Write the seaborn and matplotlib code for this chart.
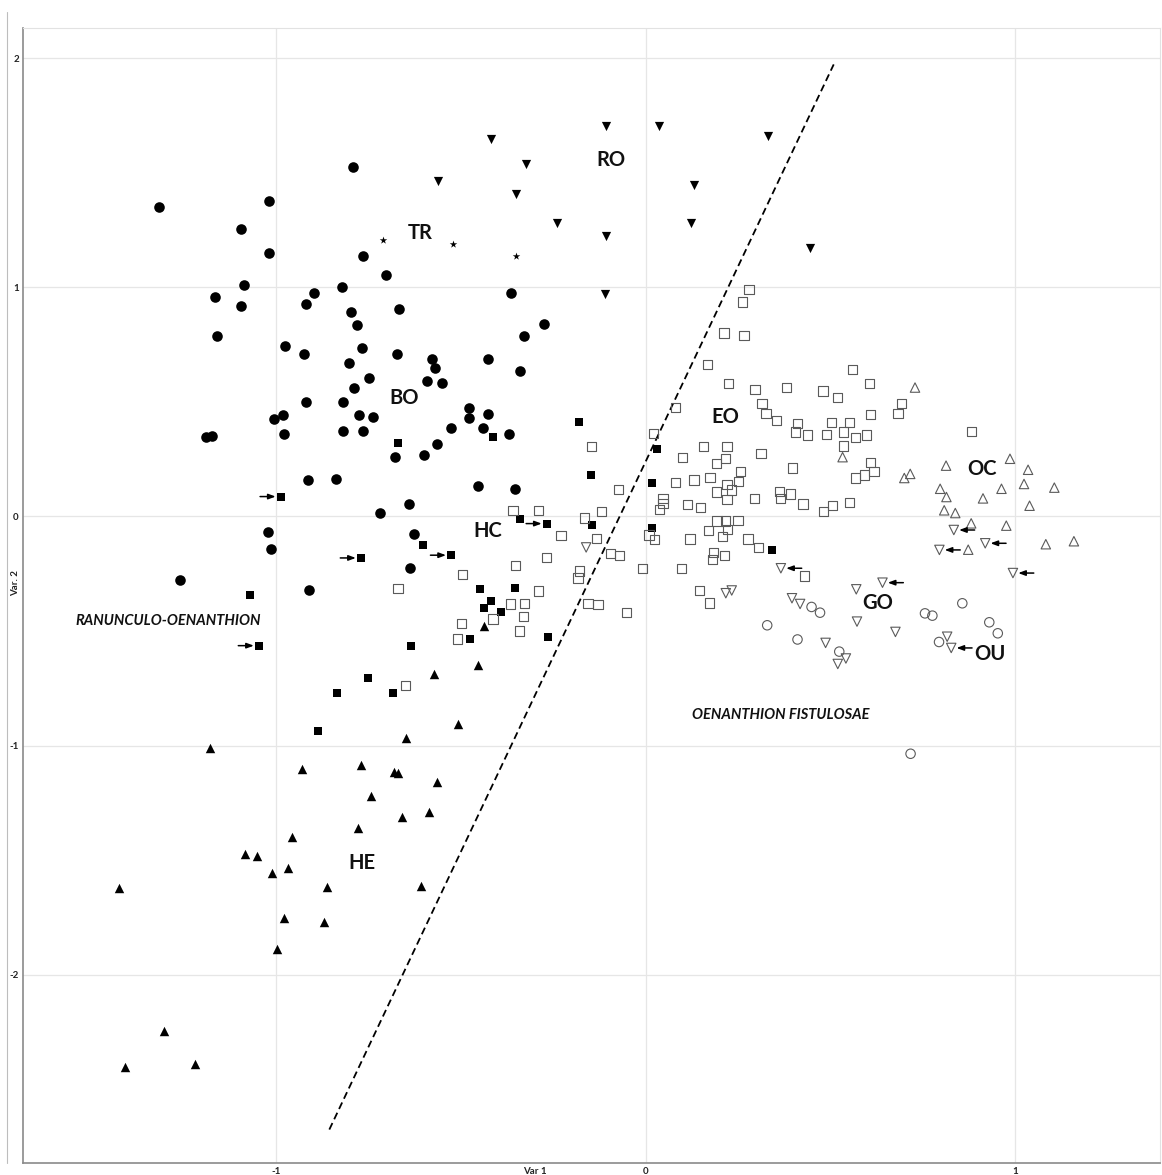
import numpy as np
import pandas as pd
import matplotlib
matplotlib.use("Agg")
import matplotlib.pyplot as plt
from matplotlib.lines import Line2D
import seaborn as sns

# ---- relevé scores on the first two ordination axes, by association ----
# BO (filled circles)
bo_x = [-0.792, -1.317, -1.019, -1.094, -1.019, -0.765, -0.702, -1.087, -1.166, -1.096,
        -0.898, -0.918, -0.821, -0.798, -0.780, -0.668, -1.160, -0.976, -0.924, -0.767,
        -0.672, -0.802, -0.577, -0.570, -0.749, -0.591, -0.551, -0.788, -0.920, -0.819,
        -0.982, -1.005, -0.775, -0.738, -0.980, -0.819, -0.764, -1.189, -1.173, -0.526,
        -0.477, -0.477, -0.426, -0.440, -0.369, -0.365, -0.274, -0.329, -0.426, -0.339,
        -0.913, -0.837, -0.679, -0.601, -0.564, -0.641, -0.718, -1.022, -1.014, -0.628,
        -0.639, -1.260, -0.912, -0.454, -0.353]
bo_y = [1.525, 1.353, 1.378, 1.257, 1.152, 1.139, 1.053, 1.010, 0.960, 0.918,
        0.977, 0.929, 1.002, 0.892, 0.836, 0.906, 0.790, 0.746, 0.711, 0.734,
        0.711, 0.670, 0.686, 0.647, 0.605, 0.592, 0.582, 0.560, 0.499, 0.501,
        0.445, 0.426, 0.443, 0.434, 0.362, 0.372, 0.372, 0.348, 0.353, 0.388,
        0.475, 0.429, 0.449, 0.386, 0.362, 0.975, 0.839, 0.788, 0.686, 0.634,
        0.159, 0.165, 0.261, 0.270, 0.317, 0.053, 0.014, -0.069, -0.143, -0.076,
        -0.224, -0.279, -0.322, 0.133, 0.119]

# TR (stars)
tr_x = [-0.711, -0.520, -0.352]
tr_y = [1.207, 1.190, 1.139]

# RO (filled down-triangles)
ro_x = [-0.563, -0.419, -0.108, 0.035, 0.332, -0.323, -0.352, 0.132, -0.240, -0.108,
        0.122, -0.110, 0.445]
ro_y = [1.465, 1.648, 1.707, 1.707, 1.663, 1.538, 1.410, 1.448, 1.282, 1.224,
        1.283, 0.970, 1.174]

# HC (filled squares)
hc_x = [-0.670, -0.414, -0.181, -0.149, 0.030, 0.016, -0.987, -0.603, -0.770, -0.526,
        -0.340, -0.267, -0.146, 0.018, 0.343, -1.070, -1.046, -0.635, -0.447, -0.353,
        -0.419, -0.437, -0.392, -0.474, -0.265, -0.751, -0.835, -0.683, -0.888]
hc_y = [0.320, 0.348, 0.414, 0.180, 0.295, 0.145, 0.087, -0.123, -0.181, -0.169,
        -0.012, -0.031, -0.038, -0.049, -0.146, -0.343, -0.564, -0.565, -0.318, -0.312,
        -0.369, -0.400, -0.415, -0.535, -0.525, -0.704, -0.772, -0.771, -0.937]
hc_flagged = [6, 8, 9, 11, 16]

# HE (filled up-triangles)
he_x = [-0.574, -0.438, -0.455, -0.509, -0.649, -1.179, -0.930, -0.770, -0.680, -0.670,
        -0.565, -0.744, -0.659, -0.585, -0.778, -0.957, -1.084, -1.053, -1.012, -0.967,
        -0.863, -0.608, -1.424, -0.978, -0.870, -0.997, -1.304, -1.408, -1.219]
he_y = [-0.688, -0.476, -0.649, -0.905, -0.969, -1.010, -1.103, -1.085, -1.114, -1.119,
        -1.159, -1.221, -1.314, -1.291, -1.362, -1.398, -1.474, -1.483, -1.555, -1.536,
        -1.619, -1.612, -1.624, -1.755, -1.769, -1.889, -2.247, -2.405, -2.392]

# EO (open squares)
eo_x = [0.280, 0.263, 0.212, 0.266, 0.168, 0.225, 0.296, 0.382, 0.315, 0.326,
        0.355, 0.410, 0.405, 0.080, 0.021, 0.559, 0.606, 0.480, 0.520, 0.693,
        0.683, 0.608, 0.504, 0.551, 0.438, 0.489, 0.536, 0.567, 0.597, 0.881,
        -0.147, 0.100, 0.156, 0.220, 0.216, 0.191, 0.312, 0.397, -0.073, 0.080,
        0.131, 0.174, 0.256, 0.251, 0.220, 0.233, 0.191, 0.220, 0.294, 0.362,
        0.366, 0.391, 0.047, 0.047, 0.037, 0.114, 0.148, -0.359, -0.289, -0.119,
        -0.165, 0.193, 0.216, 0.250, 0.171, 0.221, 0.209, 0.120, 0.277, 0.305,
        -0.229, -0.133, 0.009, 0.024, -0.096, -0.070, 0.183, 0.213, 0.180, -0.269,
        -0.353, -0.009, 0.096, -0.496, -0.178, -0.183, -0.289, 0.146, 0.172, -0.366,
        -0.327, -0.156, -0.129, -0.052, -0.330, -0.413, -0.499, -0.509, -0.342, -0.670,
        -0.650, 0.535, 0.608, 0.618, 0.592, 0.569, 0.426, 0.482, 0.506, 0.552,
        0.429]
eo_y = [0.992, 0.937, 0.801, 0.791, 0.665, 0.582, 0.554, 0.564, 0.493, 0.449,
        0.420, 0.406, 0.369, 0.476, 0.362, 0.642, 0.579, 0.548, 0.519, 0.493,
        0.448, 0.447, 0.410, 0.411, 0.356, 0.359, 0.369, 0.346, 0.356, 0.370,
        0.305, 0.259, 0.307, 0.305, 0.252, 0.232, 0.276, 0.212, 0.117, 0.149,
        0.159, 0.169, 0.196, 0.154, 0.138, 0.116, 0.107, 0.075, 0.079, 0.108,
        0.079, 0.098, 0.079, 0.058, 0.031, 0.052, 0.040, 0.025, 0.025, 0.023,
        -0.007, -0.020, -0.020, -0.017, -0.060, -0.056, -0.088, -0.098, -0.098, -0.134,
        -0.084, -0.095, -0.081, -0.100, -0.161, -0.172, -0.156, -0.171, -0.187, -0.178,
        -0.213, -0.228, -0.228, -0.255, -0.238, -0.269, -0.325, -0.324, -0.378, -0.382,
        -0.381, -0.379, -0.383, -0.420, -0.438, -0.448, -0.466, -0.535, -0.500, -0.314,
        -0.739, 0.308, 0.236, 0.196, 0.181, 0.168, 0.055, 0.023, 0.047, 0.060,
        -0.260]

# OC (open up-triangles)
oc_x = [0.729, 0.533, 0.700, 0.716, 0.813, 0.986, 1.035, 0.797, 0.814, 0.913,
        0.963, 1.024, 1.106, 1.039, 0.808, 0.838, 0.881, 0.976, 0.873, 1.083,
        1.159]
oc_y = [0.563, 0.259, 0.168, 0.186, 0.222, 0.252, 0.204, 0.121, 0.085, 0.079,
        0.121, 0.142, 0.126, 0.047, 0.027, 0.015, -0.030, -0.040, -0.145, -0.121,
        -0.108]

# GO (open down-triangles)
go_x = [-0.161, 0.366, 0.217, 0.233, 0.396, 0.418, 0.570, 0.641, 0.572, 0.676,
        0.487, 0.542, 0.520, 0.816, 0.827, 0.834, 0.919, 0.795, 0.994]
go_y = [-0.135, -0.226, -0.335, -0.323, -0.357, -0.382, -0.318, -0.289, -0.459, -0.504,
        -0.552, -0.620, -0.644, -0.525, -0.574, -0.059, -0.117, -0.146, -0.247]
go_flagged = [1, 7, 14, 15, 16, 17, 18]

# OU (open circles)
ou_x = [0.329, 0.411, 0.449, 0.472, 0.524, 0.857, 0.756, 0.776, 0.930, 0.953,
        0.794, 0.717]
ou_y = [-0.475, -0.537, -0.395, -0.420, -0.590, -0.379, -0.423, -0.433, -0.462, -0.510,
        -0.548, -1.036]

# boundary between the two alliances
divide_x = [-0.856, 0.509]
divide_y = [-2.677, 1.974]

# group names and their positions
group_names = ["RO", "TR", "BO", "HC", "EO", "OC", "GO", "OU", "HE"]
group_name_x = [-0.093, -0.610, -0.654, -0.427, 0.215, 0.909, 0.627, 0.932, -0.767]
group_name_y = [1.557, 1.239, 0.516, -0.062, 0.436, 0.206, -0.379, -0.602, -1.512]

alliance_names = ["RANUNCULO-OENANTHION", "OENANTHION FISTULOSAE"]
alliance_x = [-1.292, 0.367]
alliance_y = [-0.456, -0.867]

x_ticks = [-1, 0, 1]
y_ticks = [-2, -1, 0, 1, 2]

# ---- figure ----
sns.set_theme(style="white")
plt.rcParams["font.family"] = ["Lato", "DejaVu Sans"]

W, H = 1162, 1175
fig = plt.figure(figsize=(W / 100, H / 100), dpi=100)
ax = fig.add_axes([23 / W, 1 - 1163 / H, (1160 - 23) / W, (1163 - 28) / H])

# thin outer frame line on the left of the chart area
fig.add_artist(Line2D([6.5 / W, 6.5 / W], [1 - 1163 / H, 1 - 12 / H],
                      transform=fig.transFigure, color="#bdbdbd", lw=0.8))

ax.set_xlim(-1.685, 1.392)
ax.set_ylim(-2.823, 2.133)
ax.grid(True, color="#e6e6e6", lw=0.9)
ax.set_axisbelow(True)

sns.lineplot(x=divide_x, y=divide_y, ax=ax, color="black", lw=1.3,
             linestyle=(0, (4, 2.3)), zorder=2)

filled = dict(color="black", edgecolor="black", linewidth=0, zorder=3)
hollow = dict(facecolor="none", edgecolor="#5a5a5a", linewidth=0.8, zorder=3)

sns.scatterplot(x=bo_x, y=bo_y, ax=ax, marker="o", s=58, **filled)
sns.scatterplot(x=tr_x, y=tr_y, ax=ax, marker="*", s=32, **filled)
sns.scatterplot(x=ro_x, y=ro_y, ax=ax, marker="v", s=44, **filled)
sns.scatterplot(x=hc_x, y=hc_y, ax=ax, marker="s", s=40, **filled)
sns.scatterplot(x=he_x, y=he_y, ax=ax, marker="^", s=46, **filled)
sns.scatterplot(x=eo_x, y=eo_y, ax=ax, marker="s", s=44, **hollow)
sns.scatterplot(x=oc_x, y=oc_y, ax=ax, marker="^", s=46, **hollow)
sns.scatterplot(x=go_x, y=go_y, ax=ax, marker="v", s=46, **hollow)
sns.scatterplot(x=ou_x, y=ou_y, ax=ax, marker="o", s=46, **hollow)

# arrows flagging individual relevés
arrow_kw = dict(arrowstyle="-|>,head_length=0.35,head_width=0.13", color="black",
                lw=1.1, shrinkA=0)
for i in hc_flagged:
    ax.annotate("", xy=(hc_x[i], hc_y[i]), xytext=(-15, 0), textcoords="offset points",
                arrowprops=dict(shrinkB=3.8, **arrow_kw))
for i in go_flagged:
    ax.annotate("", xy=(go_x[i], go_y[i]), xytext=(15, 0), textcoords="offset points",
                arrowprops=dict(shrinkB=3.8, **arrow_kw))

for name, x, y in zip(group_names, group_name_x, group_name_y):
    ax.text(x, y, name, ha="center", va="center", fontsize=14.5,
            fontweight="bold", color="#111111", zorder=4)
for name, x, y in zip(alliance_names, alliance_x, alliance_y):
    ax.text(x, y, name, ha="center", va="center", fontsize=10.5,
            fontweight="bold", fontstyle="italic", color="#111111", zorder=4)

ax.set_xticks(x_ticks)
ax.set_xticklabels([str(t) for t in x_ticks])
ax.set_yticks(y_ticks)
ax.set_yticklabels([str(t) for t in y_ticks])
ax.tick_params(axis="both", length=0, labelsize=7, labelcolor="#222222")
ax.tick_params(axis="x", pad=3)
ax.tick_params(axis="y", pad=3)
for lbl in ax.get_xticklabels() + ax.get_yticklabels():
    lbl.set_fontweight("bold")

ax.set_xlabel("Var 1", fontsize=7, fontweight="bold", color="#222222")
ax.xaxis.set_label_coords(0.450, -0.0035)
ax.set_ylabel("Var. 2", fontsize=7, fontweight="bold", color="#222222")
ax.yaxis.set_label_coords(-0.0025, 0.511)

for side in ["left", "bottom"]:
    ax.spines[side].set_color("#8a8a8a")
    ax.spines[side].set_linewidth(1.2)
for side in ["top", "right"]:
    ax.spines[side].set_color("#e2e2e2")
    ax.spines[side].set_linewidth(0.8)

fig.savefig("out.png", dpi=100, facecolor="white")
